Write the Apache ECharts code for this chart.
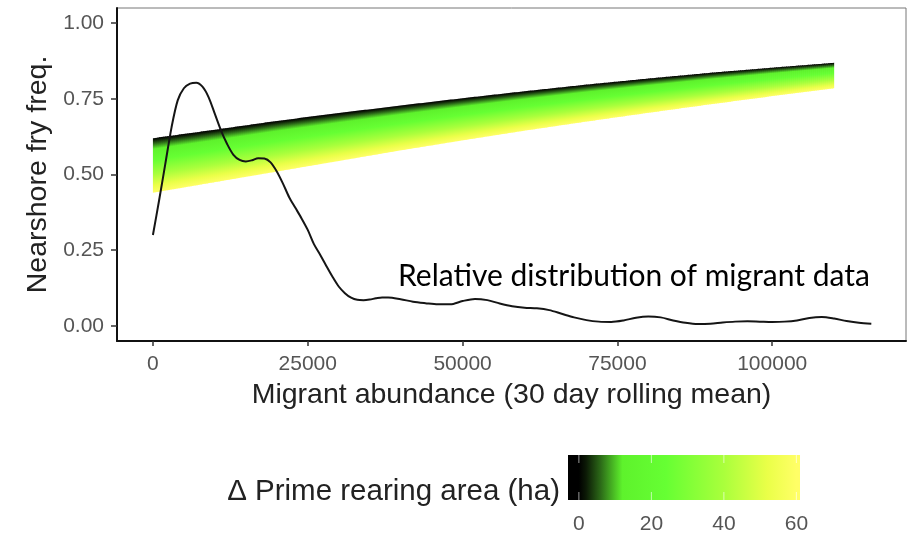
<!DOCTYPE html>
<html><head><meta charset="utf-8">
<script src="https://cdn.jsdelivr.net/npm/echarts@6/dist/echarts.min.js"></script>
<style>html,body{margin:0;padding:0;background:#fff}#c{width:917px;height:536px}</style>
</head><body><div id="c"></div>
<script>
// ---- data ----
const densityX = [0,1000,2000,3000,4000,5000,6000,7000,8000,9000,10000,11000,12000,13000,14000,15000,16000,17000,18000,19000,20000,21000,22000,23000,24000,25000,26000,27000,28000,29000,30000,31000,32000,33000,34000,35000,36000,37000,38000,40000,42000,44000,46000,48000,50000,52000,54000,56000,58000,60000,62000,64000,66000,68000,70000,72000,74000,76000,78000,80000,82000,84000,86000,88000,90000,92000,94000,96000,98000,100000,102000,104000,106000,108000,110000,112000,114000,116000];
const densityY = [0.30,0.415,0.535,0.655,0.745,0.785,0.80,0.803,0.79,0.755,0.70,0.645,0.60,0.565,0.548,0.543,0.547,0.554,0.553,0.54,0.51,0.47,0.425,0.39,0.355,0.317,0.27,0.235,0.198,0.162,0.13,0.108,0.093,0.086,0.085,0.087,0.091,0.094,0.094,0.088,0.08,0.075,0.071,0.071,0.082,0.089,0.085,0.074,0.065,0.06,0.058,0.052,0.04,0.028,0.019,0.014,0.013,0.018,0.027,0.031,0.028,0.018,0.01,0.006,0.007,0.011,0.014,0.015,0.014,0.013,0.014,0.018,0.026,0.029,0.024,0.016,0.01,0.007];
const bandX = [0,10000,20000,30000,40000,50000,60000,70000,80000,90000,100000,110000];
const bandTop = [0.62,0.648,0.677,0.703,0.728,0.752,0.775,0.797,0.817,0.836,0.853,0.869];    // Δ area = 0
const bandBottom = [0.44,0.475,0.51,0.545,0.58,0.613,0.645,0.675,0.704,0.732,0.759,0.785]; // Δ area = 60
const xTicks = [0,25000,50000,75000,100000];
const yTicks = [0,0.25,0.5,0.75,1];
const legendTicks = [0,20,40,60];
const colorValues = [0,2,6,12,24,40,52,60];
const colorHex = ['#000000','#0c1a06','#2c6a18','#5ef22c','#66ff33','#aaff3c','#eaff48','#ffff66'];
const areaMin = 0, areaMax = 60;
const xTitle = 'Migrant abundance (30 day rolling mean)';
const yTitle = 'Nearshore fry freq.';
const legendTitle = 'Δ Prime rearing area (ha)';
const annotation = 'Relative distribution of migrant data';

// ---- chart ----
function stops(){ return colorValues.map((v,i)=>({offset:(v-areaMin)/(areaMax-areaMin), color:colorHex[i]})); }
const lerp=(a,b,f)=>[a[0]+(b[0]-a[0])*f, a[1]+(b[1]-a[1])*f];
const tickFont = {color:'#555', fontSize:21, fontFamily:'Liberation Sans'};

const chart = echarts.init(document.getElementById('c'), null, {renderer:'canvas'});
chart.setOption({
  backgroundColor:'#fff',
  animation:false,
  grid:[
    {left:117, right:11, top:8, bottom:195, show:true, borderColor:'#777', borderWidth:1, backgroundColor:'#fff'},
    {left:568, top:455, width:232, height:45}
  ],
  xAxis:[
    {gridIndex:0, type:'value', min:-5800, max:121600, splitLine:{show:false},
     axisLine:{show:true, onZero:false, lineStyle:{color:'#111', width:2}},
     axisTick:{show:true, length:5, customValues:xTicks, lineStyle:{color:'#333', width:1.5}},
     axisLabel:Object.assign({customValues:xTicks, margin:13, formatter:v=>String(v)}, tickFont),
     name:xTitle, nameLocation:'middle', nameGap:40,
     nameTextStyle:{color:'#222', fontSize:28.5, fontFamily:'Liberation Sans'}},
    {gridIndex:1, type:'value', min:-3, max:61, splitLine:{show:false},
     axisLine:{show:false}, axisTick:{show:false},
     axisLabel:Object.assign({customValues:legendTicks, margin:14, formatter:v=>String(v)}, tickFont)}
  ],
  yAxis:[
    {gridIndex:0, type:'value', min:-0.05, max:1.05, splitLine:{show:false},
     axisLine:{show:true, onZero:false, lineStyle:{color:'#111', width:2}},
     axisTick:{show:true, length:6, customValues:yTicks, lineStyle:{color:'#333', width:1.5}},
     axisLabel:Object.assign({customValues:yTicks, margin:13, formatter:v=>v.toFixed(2)}, tickFont),
     name:yTitle, nameLocation:'middle', nameGap:64, nameRotate:90,
     nameTextStyle:{color:'#222', fontSize:28.5, fontFamily:'Liberation Sans'}},
    {gridIndex:1, type:'value', min:0, max:1, show:false}
  ],
  series:[
    {type:'custom', xAxisIndex:0, yAxisIndex:0, silent:true, z:2,
     data: bandX.map((x,i)=>[x,bandTop[i],bandBottom[i]]),
     renderItem(params, api){
       const i = params.dataIndex;
       if (i >= bandX.length-1) return {type:'group', children:[]};
       const t0=api.coord([bandX[i],bandTop[i]]), t1=api.coord([bandX[i+1],bandTop[i+1]]);
       const b0=api.coord([bandX[i],bandBottom[i]]), b1=api.coord([bandX[i+1],bandBottom[i+1]]);
       const N = Math.max(1, Math.ceil((t1[0]-t0[0])/2));
       const children=[];
       const last = (i === bandX.length-2);
       for (let k=0;k<N;k++){
         const f0=k/N, f1=(k+1)/N, fm=(k+0.5)/N;
         const p0=lerp(t0,t1,f0), p1=lerp(t0,t1,f1), q1=lerp(b0,b1,f1), q0=lerp(b0,b1,f0);
         const tm=lerp(t0,t1,fm), bm=lerp(b0,b1,fm);
         const ov = (last && k===N-1) ? 0 : 0.7;
         children.push({type:'polygon', shape:{points:[p0,[p1[0]+ov,p1[1]],[q1[0]+ov,q1[1]],q0]},
           style:{fill:new echarts.graphic.LinearGradient(tm[0],tm[1],bm[0],bm[1],stops(),true)}});
       }
       return {type:'group', children};
     }},
    {type:'line', xAxisIndex:0, yAxisIndex:0, z:5, showSymbol:false, smooth:0.3,
     data: densityX.map((x,i)=>[x,densityY[i]]),
     lineStyle:{color:'#151515', width:2}},
    {type:'custom', xAxisIndex:1, yAxisIndex:1, silent:true,
     data:[[areaMin, areaMax]],
     renderItem(params, api){
       const a=api.coord([-3,1]), b=api.coord([61,0]);
       const g0=api.coord([areaMin,0]), g1=api.coord([areaMax,0]);
       const children=[{type:'rect', shape:{x:a[0], y:a[1], width:b[0]-a[0], height:b[1]-a[1]},
         style:{fill:new echarts.graphic.LinearGradient(g0[0],0,g1[0],0,stops(),true)}}];
       legendTicks.forEach(v=>{
         const p=api.coord([v,0]);
         children.push({type:'line', shape:{x1:p[0],y1:a[1],x2:p[0],y2:a[1]+8}, style:{stroke:'rgba(255,255,255,0.6)', lineWidth:1}});
         children.push({type:'line', shape:{x1:p[0],y1:b[1]-8,x2:p[0],y2:b[1]}, style:{stroke:'rgba(255,255,255,0.6)', lineWidth:1}});
       });
       return {type:'group', children};
     }}
  ],
  graphic:[
    {type:'text', left:398, top:261, style:{text:annotation, fill:'#000', font:'30px Lato'}},
    {type:'text', right:917-560, top:477, style:{text:legendTitle, fill:'#222', font:'29.5px "Liberation Sans"'}}
  ]
});
</script></body></html>
